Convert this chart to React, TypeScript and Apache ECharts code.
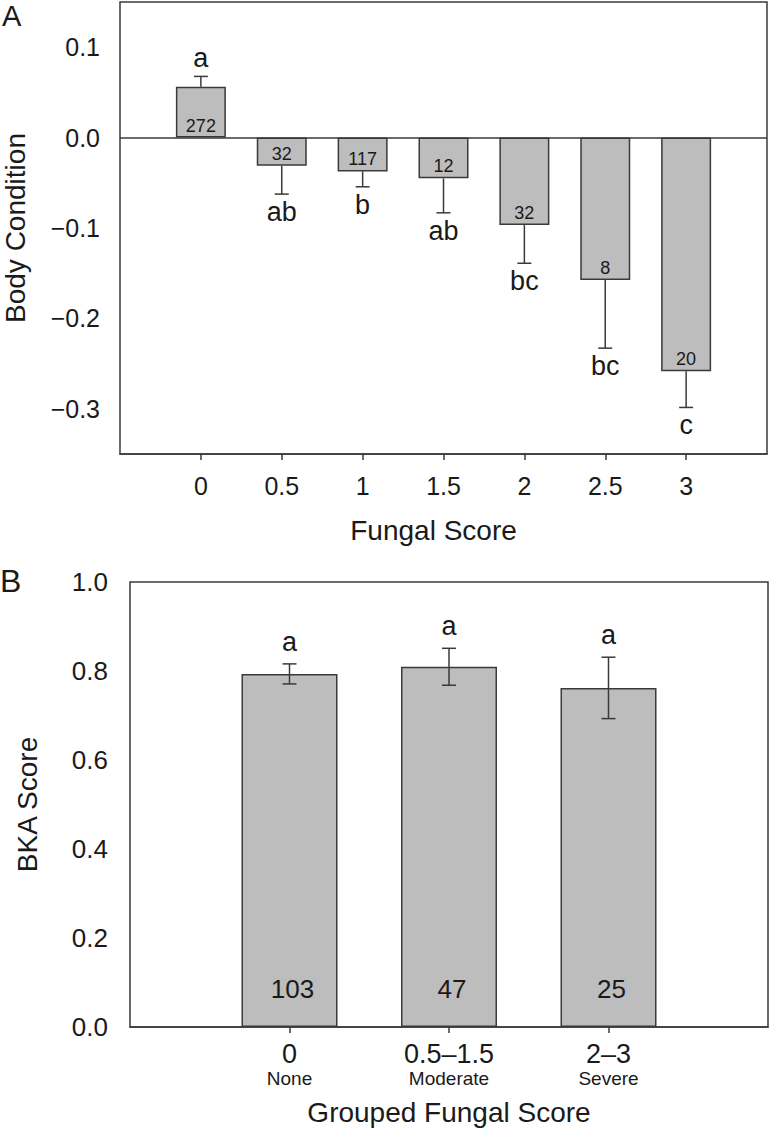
import React, { useEffect, useRef } from "react";
import * as echarts from "echarts";

// Panel A: body condition by fungal score
const scoresA = ["0", "0.5", "1", "1.5", "2", "2.5", "3"];
const meansA = [0.0562, -0.0312, -0.0374, -0.0451, -0.0968, -0.1576, -0.2586];
const seA = [0.0115, 0.0313, 0.017, 0.0381, 0.0422, 0.0753, 0.0399];
const countsA = [272, 32, 117, 12, 32, 8, 20];
const lettersA = ["a", "ab", "b", "ab", "bc", "bc", "c"];
const yTicksA = [-0.3, -0.2, -0.1, 0, 0.1];

// Panel B: BKA score by grouped fungal score
const groupsB = ["0", "0.5\u20131.5", "2\u20133"];
const groupNamesB = ["None", "Moderate", "Severe"];
const meansB = [0.7935, 0.8095, 0.762];
const seB = [0.0225, 0.0415, 0.069];
const countsB = [103, 47, 25];
const lettersB = ["a", "a", "a"];

const FONT = "'Liberation Sans', Arial, Helvetica, sans-serif";
const INK = "#1a1a1a";
const LINE = "#3a3a3a";
const BAR_FILL = "#bdbdbd";

const fmtA = (v: number) => (v < -1e-9 ? "\u2212" : "") + Math.abs(v).toFixed(1);

export default function App() {
  const ref = useRef<HTMLDivElement>(null);
  useEffect(() => {
    document.body.style.margin = "0";
    if (!ref.current) return;
    const chart = echarts.init(ref.current, undefined, { renderer: "svg" });

    const catsA = ["lo", ...scoresA, "hi"];
    const catsB = ["lo", ...groupsB, "hi"];
    const inner = (n: number) => (i: number) => i > 0 && i < n - 1;

    const option: any = {
      animation: false,
      backgroundColor: "#ffffff",
      textStyle: { fontFamily: FONT, color: INK },
      grid: [
        { left: 120, top: 2, width: 647, height: 452, outerBoundsMode: "none", containLabel: false, show: true, borderColor: LINE, borderWidth: 1.5, backgroundColor: "transparent" },
        { left: 130, top: 582, width: 638, height: 445, outerBoundsMode: "none", containLabel: false, show: true, borderColor: LINE, borderWidth: 1.5, backgroundColor: "transparent" },
      ],
      xAxis: [
        {
          type: "category",
          gridIndex: 0,
          data: catsA,
          boundaryGap: false,
          axisLine: { onZero: false, lineStyle: { color: LINE, width: 1.5 } },
          axisTick: { interval: inner(catsA.length), length: 6, lineStyle: { color: LINE, width: 1.5 } },
          axisLabel: {
            interval: 0,
            formatter: (v: string, i: number) => (i > 0 && i < catsA.length - 1 ? v : ""),
            fontSize: 25,
            margin: 19,
            color: INK,
            fontFamily: FONT,
          },
          splitLine: { show: false },
          name: "Fungal Score",
          nameLocation: "middle",
          nameGap: 62,
          nameTextStyle: { fontSize: 28, color: INK, fontFamily: FONT, padding: [0, 20, 0, 0] },
        },
        {
          type: "category",
          gridIndex: 1,
          data: catsB,
          boundaryGap: false,
          axisLine: { lineStyle: { color: LINE, width: 1.5 } },
          axisTick: { interval: inner(catsB.length), length: 6, lineStyle: { color: LINE, width: 1.5 } },
          axisLabel: {
            interval: 0,
            margin: 12,
            formatter: (v: string, i: number) =>
              i > 0 && i < catsB.length - 1 ? `{m|${v}}\n{s|${groupNamesB[i - 1]}}` : "",
            rich: {
              m: { fontSize: 27, lineHeight: 29, color: INK, fontFamily: FONT },
              s: { fontSize: 19, lineHeight: 20, color: INK, fontFamily: FONT },
            },
          },
          splitLine: { show: false },
          name: "Grouped Fungal Score",
          nameLocation: "middle",
          nameGap: 71,
          nameTextStyle: { fontSize: 28, color: INK, fontFamily: FONT },
        },
      ],
      yAxis: [
        {
          type: "value",
          gridIndex: 0,
          min: -0.35,
          max: 0.15,
          axisLine: { onZero: false, lineStyle: { color: LINE, width: 1.5 } },
          axisTick: { customValues: yTicksA, length: 7, lineStyle: { color: LINE, width: 1.5 } },
          axisLabel: { customValues: yTicksA, formatter: fmtA, fontSize: 25, margin: 20, color: INK, fontFamily: FONT },
          splitLine: { show: false },
          name: "Body Condition",
          nameLocation: "middle",
          nameGap: 91,
          nameTextStyle: { fontSize: 28, color: INK, fontFamily: FONT },
        },
        {
          type: "value",
          gridIndex: 1,
          min: 0,
          max: 1,
          interval: 0.2,
          axisLine: { onZero: false, lineStyle: { color: LINE, width: 1.5 } },
          axisTick: { length: 7, lineStyle: { color: LINE, width: 1.5 } },
          axisLabel: { formatter: (v: number) => v.toFixed(1), fontSize: 26, margin: 22, color: INK, fontFamily: FONT },
          splitLine: { show: false },
          name: "BKA Score",
          nameLocation: "middle",
          nameGap: 89,
          nameTextStyle: { fontSize: 28, color: INK, fontFamily: FONT },
        },
      ],
      series: [
        {
          type: "bar",
          xAxisIndex: 0,
          yAxisIndex: 0,
          barWidth: 50,
          data: meansA.map((v, i) => [i + 1, v]),
          itemStyle: { color: BAR_FILL, borderColor: LINE, borderWidth: 1.5 },
          markLine: {
            silent: true,
            symbol: "none",
            label: { show: false },
            lineStyle: { color: LINE, width: 1.5, type: "solid" },
            data: [{ yAxis: 0 }],
          },
          z: 2,
        },
        {
          type: "custom",
          xAxisIndex: 0,
          yAxisIndex: 0,
          clip: false,
          z: 5,
          encode: { x: 0, y: 1 },
          data: meansA.map((v, i) => [i + 1, v, seA[i]]),
          renderItem: (params: any, api: any) => {
            const i = params.dataIndex;
            const x = api.value(0);
            const m = api.value(1);
            const se = api.value(2);
            const end = m >= 0 ? m + se : m - se;
            const p0 = api.coord([x, 0]);
            const pm = api.coord([x, m]);
            const pe = api.coord([x, end]);
            const cx = pm[0];
            const dir = m >= 0 ? -1 : 1;
            const bottomY = Math.max(p0[1], pm[1]);
            const lineStyle = { stroke: LINE, lineWidth: 1.5 };
            return {
              type: "group",
              children: [
                { type: "line", shape: { x1: cx, y1: pm[1], x2: cx, y2: pe[1] }, style: lineStyle },
                { type: "line", shape: { x1: cx - 7, y1: pe[1], x2: cx + 7, y2: pe[1] }, style: lineStyle },
                {
                  type: "text",
                  x: cx,
                  y: bottomY - 12,
                  style: { text: String(countsA[i]), fontSize: 18, fontFamily: FONT, fill: INK, align: "center", verticalAlign: "middle" },
                },
                {
                  type: "text",
                  x: cx,
                  y: pe[1] + dir * 18,
                  style: { text: lettersA[i], fontSize: 27, fontFamily: FONT, fill: INK, align: "center", verticalAlign: "middle" },
                },
              ],
            };
          },
        },
        {
          type: "bar",
          xAxisIndex: 1,
          yAxisIndex: 1,
          barWidth: 96,
          data: meansB.map((v, i) => [i + 1, v]),
          itemStyle: { color: BAR_FILL, borderColor: LINE, borderWidth: 1.5 },
          z: 2,
        },
        {
          type: "custom",
          xAxisIndex: 1,
          yAxisIndex: 1,
          clip: false,
          z: 5,
          encode: { x: 0, y: 1 },
          data: meansB.map((v, i) => [i + 1, v, seB[i]]),
          renderItem: (params: any, api: any) => {
            const i = params.dataIndex;
            const x = api.value(0);
            const m = api.value(1);
            const se = api.value(2);
            const p0 = api.coord([x, 0]);
            const pt = api.coord([x, m + se]);
            const pb = api.coord([x, m - se]);
            const cx = p0[0];
            const lineStyle = { stroke: LINE, lineWidth: 1.5 };
            return {
              type: "group",
              children: [
                { type: "line", shape: { x1: cx, y1: pt[1], x2: cx, y2: pb[1] }, style: lineStyle },
                { type: "line", shape: { x1: cx - 7, y1: pt[1], x2: cx + 7, y2: pt[1] }, style: lineStyle },
                { type: "line", shape: { x1: cx - 7, y1: pb[1], x2: cx + 7, y2: pb[1] }, style: lineStyle },
                {
                  type: "text",
                  x: cx + 3,
                  y: p0[1] - 38,
                  style: { text: String(countsB[i]), fontSize: 26, fontFamily: FONT, fill: INK, align: "center", verticalAlign: "middle" },
                },
                {
                  type: "text",
                  x: cx,
                  y: pt[1] - 22,
                  style: { text: lettersB[i], fontSize: 27, fontFamily: FONT, fill: INK, align: "center", verticalAlign: "middle" },
                },
              ],
            };
          },
        },
      ],
      graphic: [
        { type: "text", left: 2, top: 1, style: { text: "A", fontSize: 29, fontFamily: FONT, fill: INK } },
        { type: "text", left: 0, top: 565, style: { text: "B", fontSize: 32, fontFamily: FONT, fill: INK } },
      ],
    };

    chart.setOption(option);
    return () => chart.dispose();
  }, []);

  return <div ref={ref} style={{ width: 770, height: 1130 }} />;
}
